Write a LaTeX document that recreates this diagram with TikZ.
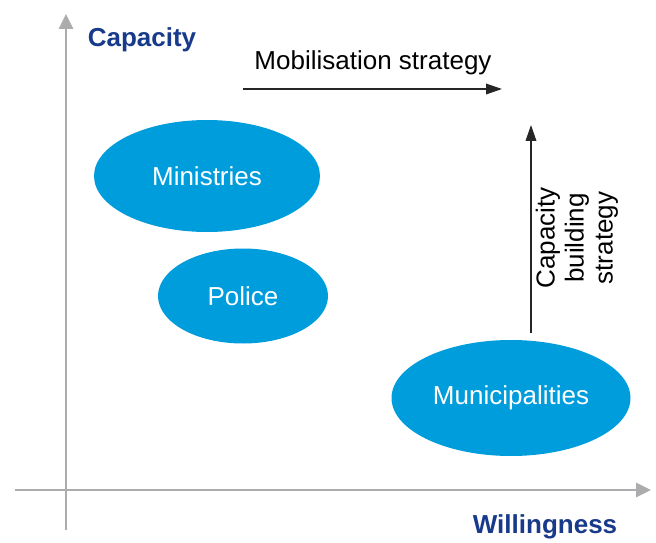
\documentclass[tikz,border=0pt]{standalone}
\usepackage{fontspec}
\setmainfont{Liberation Sans}
\usepackage{xcolor}
\usepackage{tikz}
\usetikzlibrary{shapes.geometric,arrows.meta}

\definecolor{ellblue}{RGB}{0,157,220}
\definecolor{labblue}{RGB}{24,58,138}
\definecolor{axisgray}{RGB}{172,172,174}

\tikzset{
	actor/.style={ellipse,fill=ellblue,text=white,inner sep=0pt,font=\fontsize{14.8}{17}\selectfont},
	axisline/.style={draw=axisgray,line width=1.6pt,-{Triangle[length=8.5pt,width=8pt]}},
	strategy/.style={draw=black!85,line width=0.8pt,-{Triangle[length=9pt,width=6pt]}},
	axislabel/.style={text=labblue,font=\fontsize{14.8}{17}\selectfont\bfseries},
	plainlabel/.style={font=\fontsize{14.8}{16.5}\selectfont}
}

\begin{document}
\begin{tikzpicture}
				\useasboundingbox (0,0) rectangle (13.12,10.84);
				% axes
				\coordinate (ybot) at (1.32,0.24);
				\coordinate (ytop) at (1.32,10.56);
				\coordinate (xleft) at (0.3,1.04);
				\coordinate (xright) at (13.02,1.04);
				\draw [axisline] (ybot) -- (ytop);
				\draw [axisline] (xleft) -- (xright);
				\node [axislabel] (capacity) at (2.84,10.04) {Capacity};
				\node [axislabel] (willingness) at (10.9,0.3) {Willingness};
				% actors
				\node [actor,minimum width=4.52cm,minimum height=2.24cm] (ministries) at (4.14,7.32) {Ministries};
				\node [actor,minimum width=3.4cm,minimum height=1.9cm] (police) at (4.86,4.92) {Police};
				\node [actor,minimum width=4.78cm,minimum height=2.32cm] (municipalities) at (10.22,2.88) {Municipalities};
				% strategies
				\node [plainlabel] (mobilisation) at (7.46,9.58) {Mobilisation strategy};
				\coordinate (mobstart) at (4.86,9.06);
				\coordinate (mobend) at (10.04,9.06);
				\draw [strategy] (mobstart) -- (mobend);
				\coordinate (capstart) at (10.62,4.18);
				\coordinate (capend) at (10.62,8.34);
				\draw [strategy] (capstart) -- (capend);
				\node [plainlabel,rotate=90,align=center] (capbuilding) at (11.54,6.08) {Capacity\\building\\strategy};
			\end{tikzpicture}
\end{document}
